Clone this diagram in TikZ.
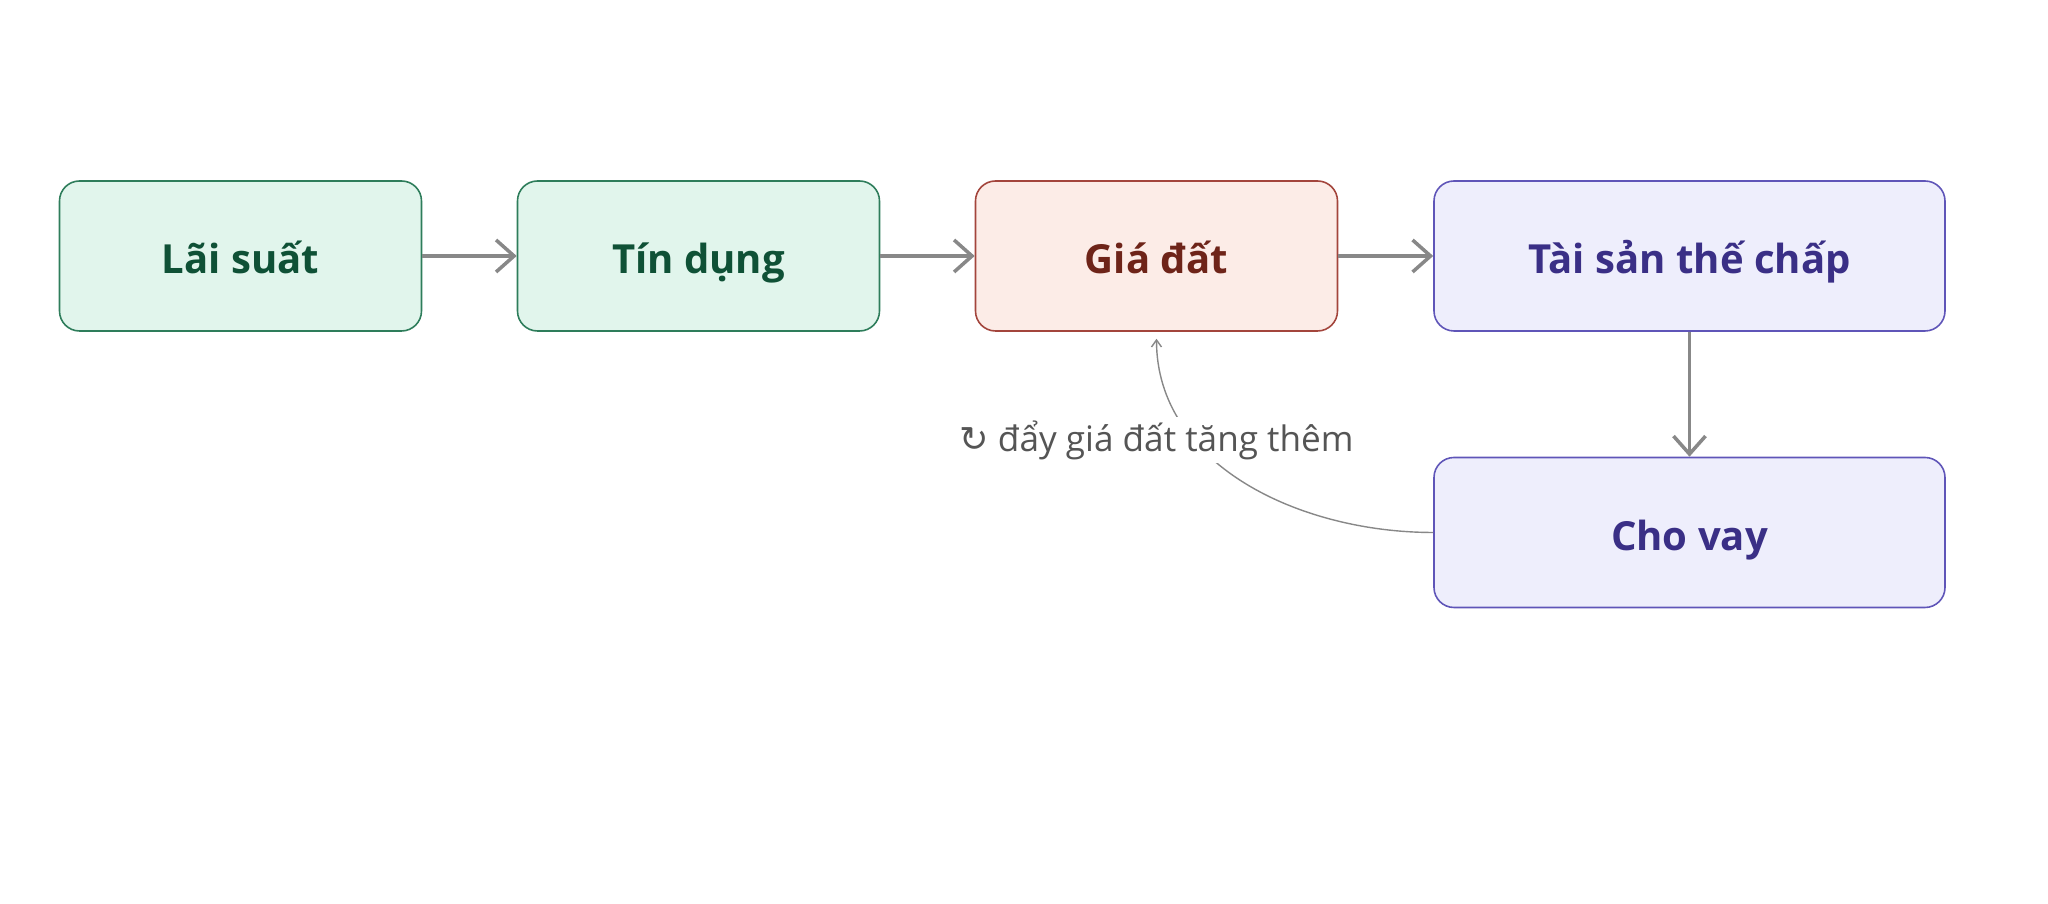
\documentclass[tikz,border=0pt]{standalone}
\usepackage{fontspec}
\setmainfont{Open Sans}
\newfontfamily\symfont{DejaVu Sans}
\usetikzlibrary{positioning,calc,arrows.meta}

\definecolor{greenfill}{HTML}{E1F5EC}
\definecolor{greenline}{HTML}{2E7D5B}
\definecolor{greentext}{HTML}{0F5136}
\definecolor{redfill}{HTML}{FCECE7}
\definecolor{redline}{HTML}{A3453C}
\definecolor{redtext}{HTML}{6E2419}
\definecolor{bluefill}{HTML}{EEEEFC}
\definecolor{blueline}{HTML}{5F55B8}
\definecolor{bluetext}{HTML}{3A2F86}
\definecolor{flowgray}{HTML}{888888}
\definecolor{labelgray}{HTML}{555555}

\tikzset{
  box/.style={rounded corners=0.2cm, line width=0.45pt, minimum height=1.5cm,
    inner sep=0pt, align=center, text height=1em, text depth=0em,
    font=\fontsize{11.4}{13}\selectfont\bfseries},
  greenbox/.style={box, draw=greenline, fill=greenfill, text=greentext, minimum width=3.62cm},
  redbox/.style={box, draw=redline, fill=redfill, text=redtext, minimum width=3.62cm},
  bluebox/.style={box, draw=blueline, fill=bluefill, text=bluetext, minimum width=5.11cm},
  flow/.style={draw=flowgray, line width=1pt, -{Straight Barb[length=0.18cm,width=0.32cm]}},
  loopback/.style={draw=flowgray, line width=0.4pt, -{Straight Barb[length=0.07cm,width=0.1cm]}, shorten >=0.07cm},
}

\begin{document}
\begin{tikzpicture}
	\useasboundingbox (0,0) rectangle (20.48,9.04);
	
	\node[greenbox] (lai) at (2.405,6.48) {Lãi suất};
	\node[greenbox] (tin) at (6.985,6.48) {Tín dụng};
	\node[redbox] (gia) at (11.565,6.48) {Giá đất};
	\node[bluebox] (tai) at (16.895,6.48) {Tài sản thế chấp};
	\node[bluebox] (cho) at (16.895,3.715) {Cho vay};
	
	\draw[flow] (lai) -- (tin);
	\draw[flow] (tin) -- (gia);
	\draw[flow] (gia) -- (tai);
	\draw[flow] (tai) -- (cho);
	
	% vong lap ve gia dat
	\draw[loopback] (cho.west) to[out=180,in=-90] (gia.south);
	\node[fill=white, inner sep=1pt, text=labelgray, font=\fontsize{10}{12}\selectfont]
		(day) at (11.565,4.64) {{\symfont ↻} đẩy giá đất tăng thêm};
	
\end{tikzpicture}
\end{document}
